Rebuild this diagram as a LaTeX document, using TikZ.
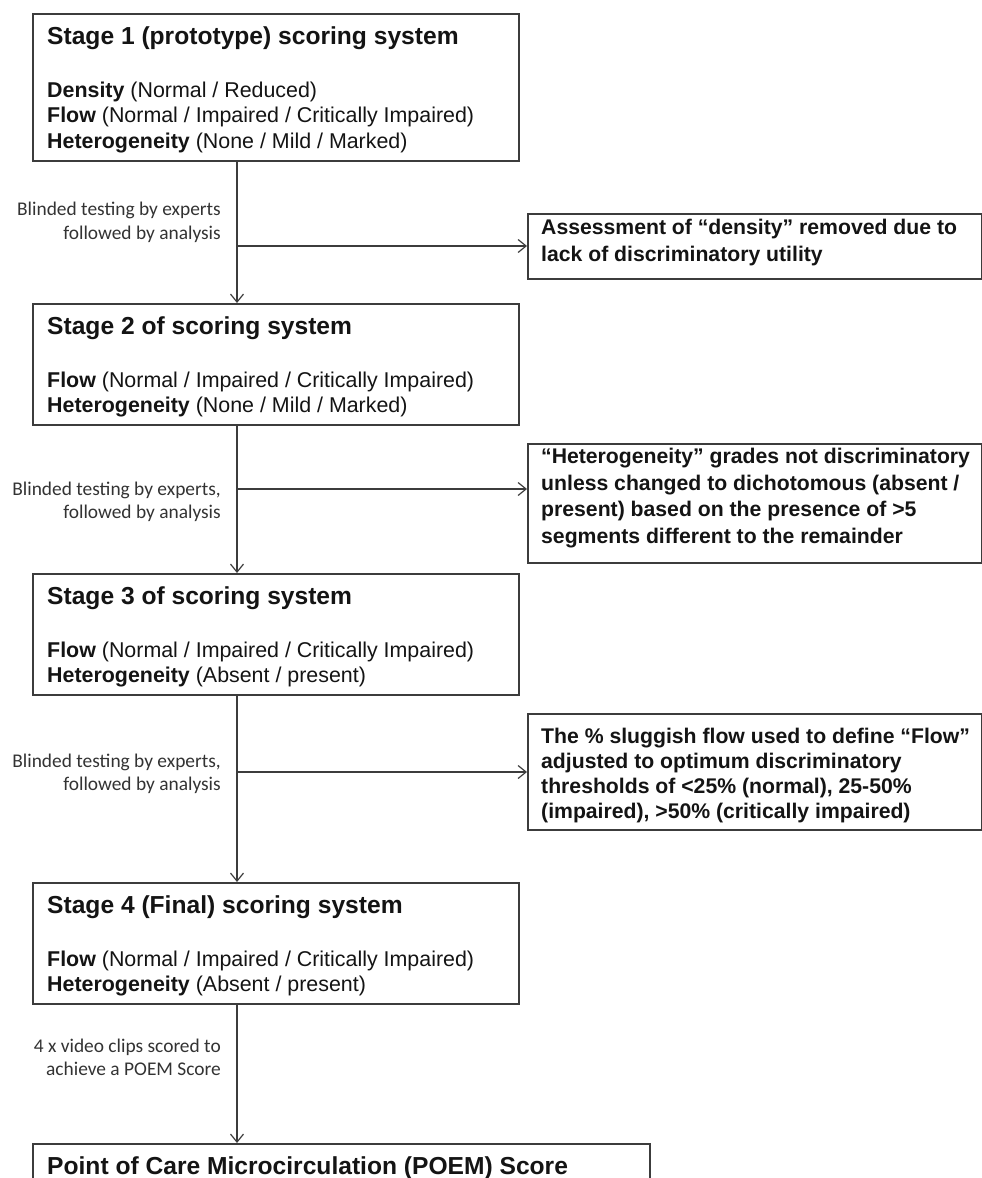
\documentclass[tikz,border=0pt]{standalone}
\usepackage{fontspec}
\setmainfont{Liberation Sans}
\newfontfamily\labfont{Carlito}
\usetikzlibrary{arrows.meta}
\definecolor{ln}{HTML}{3C3C3C}
\definecolor{tx}{HTML}{141414}
\tikzset{
 box/.style={draw=ln, line width=1.5pt, anchor=north west, inner sep=0pt},
 ttl/.style={anchor=base west, inner sep=0pt, font=\fontsize{24.6}{28}\selectfont\bfseries, text=tx},
 bod/.style={anchor=base west, inner sep=0pt, font=\fontsize{21.4}{26}\selectfont, text=tx},
 note/.style={anchor=base west, inner sep=0pt, font=\fontsize{21.2}{26}\selectfont\bfseries, text=tx},
 lbl/.style={anchor=base east, inner sep=0pt, font=\labfont\fontsize{19.4}{24}\selectfont, text=black!80},
 arr/.style={draw=ln, line width=1.2pt, -{Straight Barb[length=8pt,width=13pt]}},
}
\begin{document}
\begin{tikzpicture}[x=1pt,y=-1pt]
\clip (0,0) rectangle (982,1178);
\fill[white] (0,0) rectangle (982,1178);
% main boxes
\node[box, minimum width=486pt, minimum height=147pt] (b1) at (32,13) {};
\node[box, minimum width=486pt, minimum height=121pt] (b2) at (32,303) {};
\node[box, minimum width=486pt, minimum height=121pt] (b3) at (32,573) {};
\node[box, minimum width=486pt, minimum height=121pt] (b4) at (32,882) {};
\node[box, minimum width=617pt, minimum height=80pt] (b5) at (32,1143) {};
% side boxes
\node[box, minimum width=454pt, minimum height=65pt] (a1) at (527,213) {};
\node[box, minimum width=454pt, minimum height=119pt] (a2) at (527,443) {};
\node[box, minimum width=454pt, minimum height=116pt] (a3) at (527,713) {};
% texts box 1
\node[ttl] (b1t) at (47,44) {Stage 1 (prototype) scoring system};
\node[bod] (b1a) at (47,97) {\textbf{Density} (Normal / Reduced)};
\node[bod] (b1b) at (47,122.5) {\textbf{Flow} (Normal / Impaired / Critically Impaired)};
\node[bod] (b1c) at (47,148) {\textbf{Heterogeneity} (None / Mild / Marked)};
% box 2
\node[ttl] (b2t) at (47,334) {Stage 2 of scoring system};
\node[bod] (b2a) at (47,387) {\textbf{Flow} (Normal / Impaired / Critically Impaired)};
\node[bod] (b2b) at (47,412.5) {\textbf{Heterogeneity} (None / Mild / Marked)};
% box 3
\node[ttl] (b3t) at (47,604) {Stage 3 of scoring system};
\node[bod] (b3a) at (47,657) {\textbf{Flow} (Normal / Impaired / Critically Impaired)};
\node[bod] (b3b) at (47,682.5) {\textbf{Heterogeneity} (Absent / present)};
% box 4
\node[ttl] (b4t) at (47,913) {Stage 4 (Final) scoring system};
\node[bod] (b4a) at (47,966) {\textbf{Flow} (Normal / Impaired / Critically Impaired)};
\node[bod] (b4b) at (47,991.5) {\textbf{Heterogeneity} (Absent / present)};
% box 5
\node[ttl] (b5t) at (47,1174) {Point of Care Microcirculation (POEM) Score};
% side texts
\node[note] (a1a) at (541,234) {Assessment of “density” removed due to};
\node[note] (a1b) at (541,261) {lack of discriminatory utility};
\node[note] (a2a) at (541,463) {“Heterogeneity” grades not discriminatory};
\node[note] (a2b) at (541,490) {unless changed to dichotomous (absent /};
\node[note] (a2c) at (541,516.5) {present) based on the presence of >5};
\node[note] (a2d) at (541,543) {segments different to the remainder};
\node[note] (a3a) at (541,743) {The \% sluggish flow used to define “Flow”};
\node[note] (a3b) at (541,768) {adjusted to optimum discriminatory};
\node[note] (a3c) at (541,793) {thresholds of <25\% (normal), 25-50\%};
\node[note] (a3d) at (541,818) {(impaired), >50\% (critically impaired)};
% labels
\node[lbl] (l1a) at (221,215) {Blinded testing by experts};
\node[lbl] (l1b) at (221,239) {followed by analysis};
\node[lbl] (l2a) at (221,495) {Blinded testing by experts,};
\node[lbl] (l2b) at (221,518) {followed by analysis};
\node[lbl] (l3a) at (221,767) {Blinded testing by experts,};
\node[lbl] (l3b) at (221,790) {followed by analysis};
\node[lbl] (l4a) at (221,1052) {4 x video clips scored to};
\node[lbl] (l4b) at (221,1075) {achieve a POEM Score};
% junctions
\coordinate (j1) at (237,246);
\coordinate (j2) at (237,489);
\coordinate (j3) at (237,772);
\coordinate (j4) at (237,1070);
% connectors
\draw[arr] (b1.south -| j1) -- (b2.north -| j1);
\draw[arr] (j1) -- (j1 -| a1.west);
\draw[arr] (b2.south -| j2) -- (b3.north -| j2);
\draw[arr] (j2) -- (j2 -| a2.west);
\draw[arr] (b3.south -| j3) -- (b4.north -| j3);
\draw[arr] (j3) -- (j3 -| a3.west);
\draw[arr] (b4.south -| j4) -- (b5.north -| j4);
\end{tikzpicture}
\end{document}
